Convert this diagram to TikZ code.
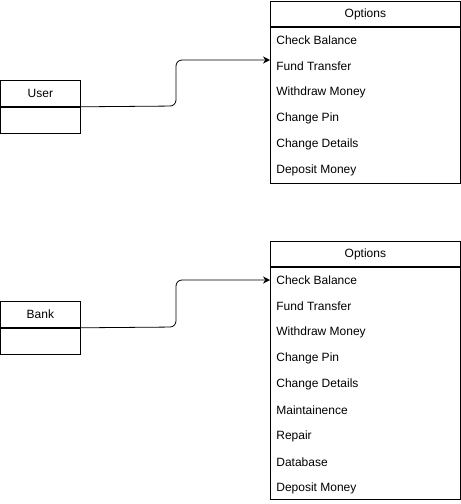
\documentclass[tikz,border=0pt]{standalone}
\usepackage{fontspec}
\setmainfont{Liberation Sans}
\usetikzlibrary{positioning, arrows.meta}

\begin{document}
\begin{tikzpicture}[x=1pt, y=-1pt, font=\fontsize{12}{14}\selectfont,
        line width=0.8pt,
        classbox/.style={draw, minimum width=80pt, minimum height=26pt, inner sep=0pt},
        listhead/.style={draw, minimum width=190pt, minimum height=25pt, inner sep=0pt},
        item/.style={anchor=west, inner sep=0pt},
        link/.style={-{Stealth[length=7pt, width=7pt]}, rounded corners=6pt}]
            \useasboundingbox (0,0) rectangle (461,504);

            % user side
            \node [classbox, anchor=north west] (User) at (0,80) {User};
            \node [classbox, below=0pt of User] (UserBody) {};

            \node [listhead, anchor=north west] (UserOpt) at (270,1) {Options};
            \node [draw, minimum width=190pt, minimum height=156pt, below=0pt of UserOpt] (UserList) {};
            \foreach \name [count=\i] in {Check Balance, Fund Transfer, Withdraw Money,
                    Change Pin, Change Details, Deposit Money}
                \node [item] (UserItem\i) at (276,14+26*\i) {\name};

            % bank side
            \node [classbox, anchor=north west] (Bank) at (0,301) {Bank};
            \node [classbox, below=0pt of Bank] (BankBody) {};

            \node [listhead, anchor=north west] (BankOpt) at (270,241) {Options};
            \node [draw, minimum width=190pt, minimum height=232pt, below=0pt of BankOpt] (BankList) {};
            \foreach \name [count=\i] in {Check Balance, Fund Transfer, Withdraw Money,
                    Change Pin, Change Details, Maintainence, Repair, Database, Deposit Money}
                \node [item] (BankItem\i) at (276,254+26*\i) {\name};

            \coordinate (UserIn) at (270,60);
            \coordinate (BankIn) at (270,280);

            \draw [link] (User.south east) -- (176,106) -- (176,60) -- (UserIn);
            \draw [link] (Bank.south east) -- (176,327) -- (176,280) -- (BankIn);

        \end{tikzpicture}
\end{document}
